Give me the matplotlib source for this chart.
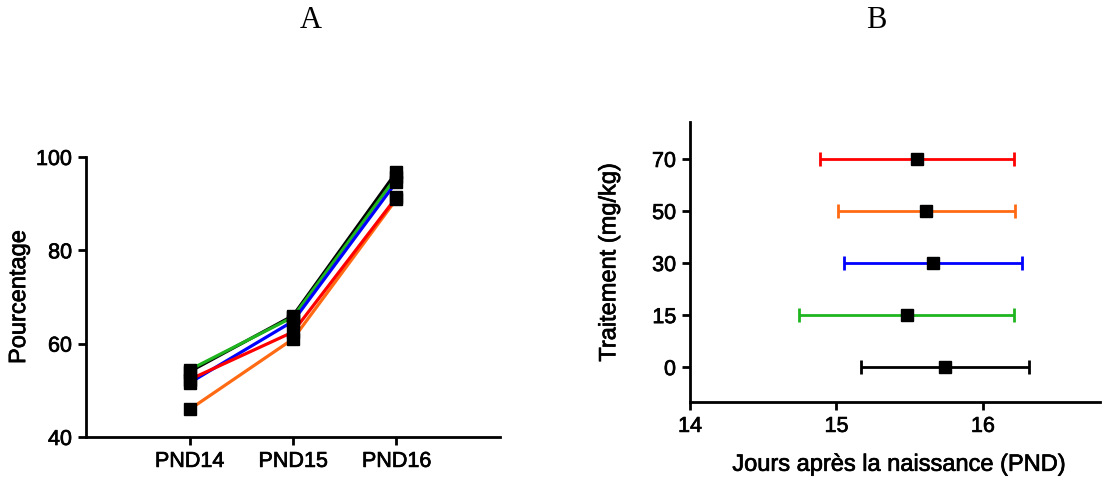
import matplotlib
matplotlib.use("Agg")
import matplotlib.pyplot as plt
import matplotlib.patheffects as pe
import numpy as np

# Panel A data
days = ["PND14", "PND15", "PND16"]
pct_black = [54.0, 66.0, 96.8]
pct_green = [54.4, 65.7, 95.8]
pct_blue = [51.6, 64.8, 94.7]
pct_orange = [45.9, 61.0, 91.0]
pct_red = [52.3, 62.5, 91.4]

# Panel B data
doses = ["0", "15", "30", "50", "70"]
pnd_mean = [15.74, 15.48, 15.66, 15.615, 15.55]
pnd_err = [0.575, 0.735, 0.61, 0.605, 0.66]
dose_colors = ["#000000", "#1fb51f", "#0000ff", "#ff6a13", "#ff0000"]

plt.rcParams['font.family'] = ['Liberation Sans', 'DejaVu Sans']

fig = plt.figure(figsize=(11.08, 4.81), dpi=100)
axA = fig.add_axes([86/1108, 1-438/481, 414/1108, 280/481])
axB = fig.add_axes([690/1108, 1-403/481, 410/1108, 280/481])

x = np.arange(1, len(days) + 1)
lw = 2.3
series = [(pct_black, "#000000"), (pct_green, "#1fb51f"), (pct_blue, "#0000ff"),
          (pct_orange, "#ff6a13"), (pct_red, "#ff0000")]
for vals, c in series:
    axA.plot(x, vals, color=c, lw=lw, zorder=2)
for vals, c in series:
    axA.plot(x, vals, ls='none', marker='s', ms=9, color='black', zorder=3)

axA.set_xlim(0, 4)
axA.set_ylim(40, 100)
axA.set_xticks(x)
axA.set_xticklabels(days)
axA.set_yticks([40, 60, 80, 100])
axA.set_ylabel("Pourcentage", fontsize=17)
axA.yaxis.set_label_coords(-0.135, 0.5)

ypos = np.arange(len(doses))
for i in range(len(doses)):
    axB.errorbar(pnd_mean[i], ypos[i], xerr=pnd_err[i], fmt='none',
                 ecolor=dose_colors[i], elinewidth=2, capsize=5, capthick=2, zorder=2)
    axB.plot(pnd_mean[i], ypos[i], marker='s', ms=9, color='black', ls='none', zorder=3)
axB.set_xlim(14, 16.8)
axB.set_ylim(-0.67, 4.71)
axB.set_xticks([14, 15, 16])
axB.set_yticks(ypos)
axB.set_yticklabels(doses)
axB.set_xlabel("Jours après la naissance (PND)", fontsize=17)
axB.set_ylabel("Traitement (mg/kg)", fontsize=17)
axB.yaxis.set_label_coords(-0.17, 0.5)
axB.xaxis.set_label_coords(0.51, -0.185)

stroke = [pe.withStroke(linewidth=0.5, foreground='black')]
for ax in (axA, axB):
    for s in ("top", "right"):
        ax.spines[s].set_visible(False)
    for s in ("left", "bottom"):
        ax.spines[s].set_linewidth(2)
    ax.tick_params(direction='out', length=6, width=2, labelsize=15.5, pad=4)
    for lab in ax.get_xticklabels() + ax.get_yticklabels():
        lab.set_path_effects(stroke)
    ax.xaxis.label.set_path_effects(stroke)
    ax.yaxis.label.set_path_effects(stroke)

fig.text(311/1108, 1-20/481, "A", ha='center', va='center', fontsize=22, family='Liberation Serif')
fig.text(876/1108, 1-20/481, "B", ha='center', va='center', fontsize=22, family='Liberation Serif')

fig.savefig("out.png", dpi=100)
